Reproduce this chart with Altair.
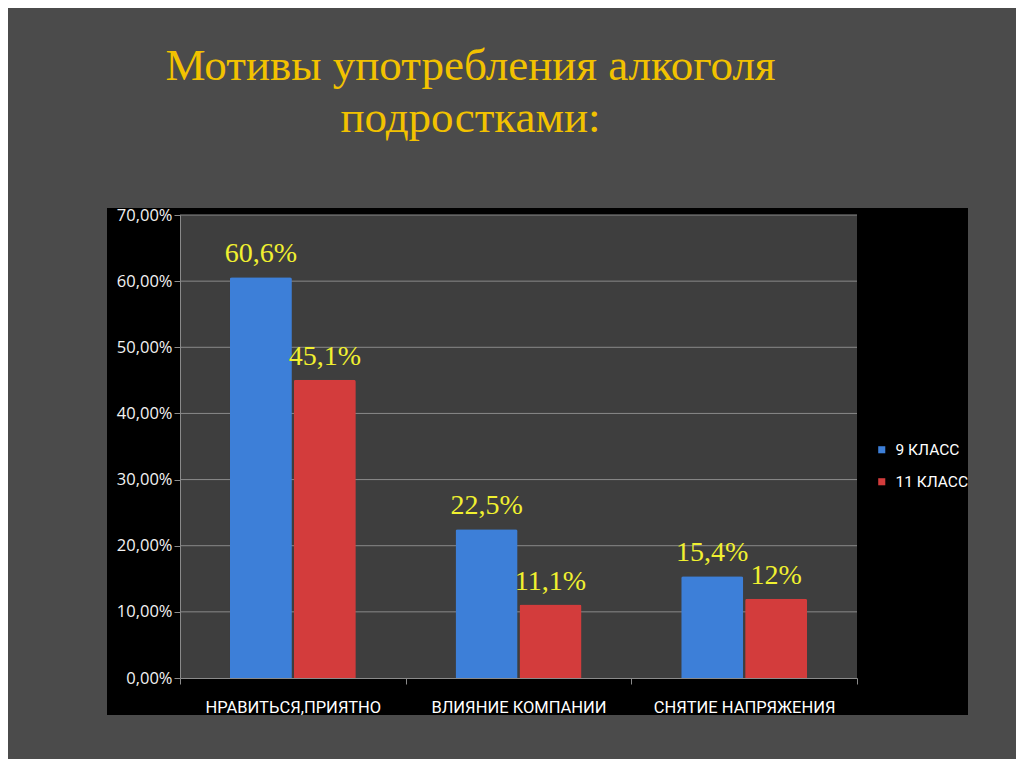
import altair as alt
import pandas as pd

categories = ["НРАВИТЬСЯ,ПРИЯТНО", "ВЛИЯНИЕ КОМПАНИИ", "СНЯТИЕ НАПРЯЖЕНИЯ"]
series = ["9 КЛАСС", "11 КЛАСС"]
values_9 = [0.606, 0.225, 0.154]
values_11 = [0.451, 0.111, 0.12]
labels_9 = ["60,6%", "22,5%", "15,4%"]
labels_11 = ["45,1%", "11,1%", "12%"]
y_ticks = [0.0, 0.1, 0.2, 0.3, 0.4, 0.5, 0.6, 0.7]
title_lines = ["Мотивы употребления алкоголя", "подростками:"]

rows = []
for c, v, l in zip(categories, values_9, labels_9):
    rows.append({"cat": c, "series": series[0], "value": v, "label": l})
for c, v, l in zip(categories, values_11, labels_11):
    rows.append({"cat": c, "series": series[1], "value": v, "label": l})
df = pd.DataFrame(rows)
grid_df = pd.DataFrame({"value": y_ticks[1:]})

W, H = 677, 463
SANS = "Roboto"

x_enc = alt.X("cat:N", sort=categories, title=None,
              scale=alt.Scale(paddingInner=0, paddingOuter=0),
              axis=alt.Axis(labelAngle=0, labelColor="#ffffff", labelFont=SANS,
                            labelFontSize=16.5, labelPadding=15, labelLimit=0,
                            labelOverlap=False, domainColor="#8a8a8a",
                            tickColor="#8a8a8a", tickBand="extent", tickSize=6, grid=False,
                            zindex=1))
xoff = alt.XOffset("series:N", sort=series,
                   scale=alt.Scale(paddingOuter=0.78, paddingInner=0.03))
y_enc = alt.Y("value:Q", title=None,
              scale=alt.Scale(domain=[0, 0.7], nice=False),
              axis=alt.Axis(values=y_ticks, grid=False,
                            labelExpr="replace(format(datum.value, '.2%'), '.', ',')",
                            labelColor="#f2f2f2", labelFont="Open Sans", labelFontSize=16.5,
                            domainColor="#8a8a8a", tickColor="#8a8a8a", tickSize=6,
                            labelPadding=2, zindex=1))

black_box = alt.Chart(pd.DataFrame({"a": [0]})).mark_rect(color="#000000").encode(
    x=alt.value(-73), x2=alt.value(788), y=alt.value(-7), y2=alt.value(500))
plot_bg = alt.Chart(pd.DataFrame({"a": [0]})).mark_rect(color="#3e3e3e").encode(
    x=alt.value(0), x2=alt.value(W), y=alt.value(0), y2=alt.value(H))
grid = alt.Chart(grid_df).mark_rule(color="#8a8a8a", strokeWidth=1).encode(
    y=y_enc, x=alt.value(0), x2=alt.value(W))

bars = alt.Chart(df).mark_bar(cornerRadiusTopLeft=2, cornerRadiusTopRight=2).encode(
    x=x_enc, xOffset=xoff, y=y_enc,
    color=alt.Color("series:N", sort=series,
                    scale=alt.Scale(domain=series, range=["#3d7fd8", "#d33c3c"]),
                    legend=alt.Legend(title=None, orient="none", legendX=694, legendY=227,
                                      symbolType="square", symbolSize=50, symbolStrokeWidth=0,
                                      labelColor="#ffffff", labelFont=SANS,
                                      labelFontSize=15.5, rowPadding=15, labelOffset=6)))
text = alt.Chart(df).mark_text(font="Liberation Serif", fontSize=28, color="#f0f030",
                               baseline="alphabetic", dy=-15).encode(
    x=alt.X("cat:N", sort=categories), xOffset=alt.XOffset("series:N", sort=series),
    y="value:Q", text="label:N")

chart = alt.layer(black_box, plot_bg, grid, bars, text).properties(
    width=W, height=H,
    title=alt.TitleParams(title_lines, font="Liberation Serif", fontSize=45, fontWeight="normal",
                          color="#f2c200", anchor="middle", dx=-48, offset=66, lineHeight=52),
    background="#4b4b4b",
    padding={"left": 172, "top": 207, "right": 159, "bottom": 81},
    autosize=alt.AutoSizeParams(type="none"),
).configure_view(stroke=None)

chart.save("out.html", embed_options={"renderer": "svg", "actions": False})
